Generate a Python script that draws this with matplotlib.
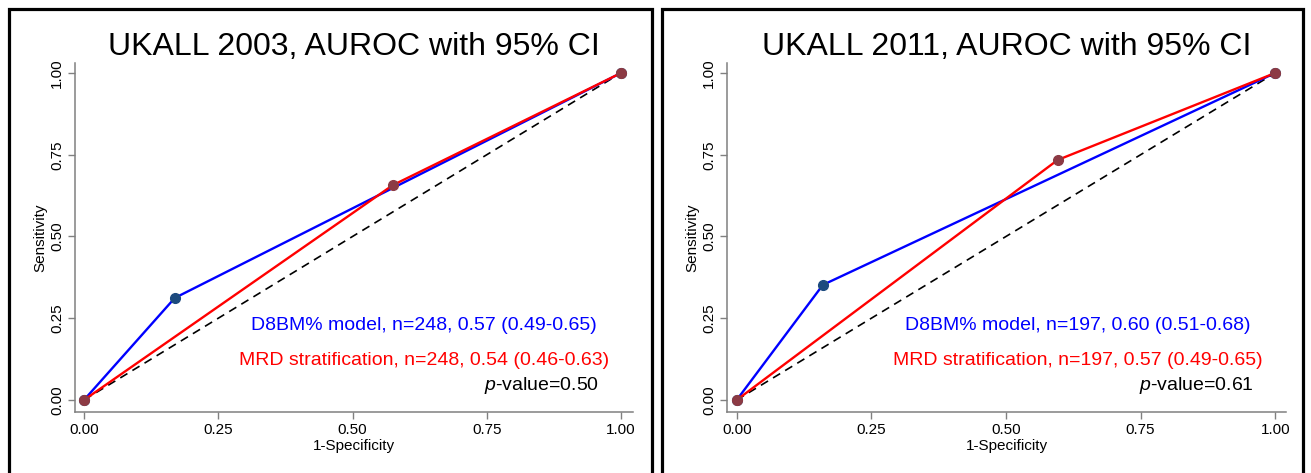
import numpy as np
import matplotlib
matplotlib.use("Agg")
import matplotlib.pyplot as plt
from matplotlib.patches import Rectangle

plt.rcParams['font.family'] = ['Liberation Sans', 'DejaVu Sans']
plt.rcParams['mathtext.fontset'] = 'custom'
plt.rcParams['mathtext.rm'] = 'Liberation Sans'
plt.rcParams['mathtext.it'] = 'Liberation Sans:italic'

# ROC points (1-specificity, sensitivity)
titles = ["UKALL 2003, AUROC with 95% CI", "UKALL 2011, AUROC with 95% CI"]
model_fpr = [[0.0, 0.169, 1.0], [0.0, 0.160, 1.0]]
model_tpr = [[0.0, 0.312, 1.0], [0.0, 0.352, 1.0]]
mrd_fpr = [[0.0, 0.575, 1.0], [0.0, 0.596, 1.0]]
mrd_tpr = [[0.0, 0.657, 1.0], [0.0, 0.734, 1.0]]
model_labels = ["D8BM% model, n=248, 0.57 (0.49-0.65)",
                "D8BM% model, n=197, 0.60 (0.51-0.68)"]
mrd_labels = ["MRD stratification, n=248, 0.54 (0.46-0.63)",
              "MRD stratification, n=197, 0.57 (0.49-0.65)"]
p_labels = ["$p$-value=0.50", "$p$-value=0.61"]
ticks = [0.0, 0.25, 0.5, 0.75, 1.0]
tick_labels = ["0.00", "0.25", "0.50", "0.75", "1.00"]

W, H = 1311, 473
fig = plt.figure(figsize=(W / 100, H / 100), dpi=100)

# panel frames (bottom edge runs off the image)
for x0, x1 in [(9, 652), (662, 1303)]:
    fig.patches.append(Rectangle((x0 / W, -0.1), (x1 - x0) / W, 1.1 - 9 / H,
                                 transform=fig.transFigure, fill=False,
                                 edgecolor='black', linewidth=2.3))

# axes: spine pixel extents
panels = [(75, 633, 84, 621), (727, 1286, 736.7, 1275.2)]
y_spine_top, y_spine_bot, y0px, y1px = 63, 412, 400, 73
axis_grey = '#808080'

for i, (sl, sr, x0px, x1px) in enumerate(panels):
    ax = fig.add_axes([sl / W, 1 - y_spine_bot / H, (sr - sl) / W,
                       (y_spine_bot - y_spine_top) / H])
    xs = x1px - x0px
    ys = y0px - y1px
    ax.set_xlim(-(x0px - sl) / xs, 1 + (sr - x1px) / xs)
    ax.set_ylim(-(y_spine_bot - y0px) / ys, 1 + (y1px - y_spine_top) / ys)

    ax.plot([0, 1], [0, 1], color='black', linestyle=(0, (5, 3.5)), linewidth=1.2)
    ax.plot(model_fpr[i], model_tpr[i], color='#0000ff', linewidth=1.7,
            marker='o', markersize=7, markerfacecolor='#1c4a7e',
            markeredgecolor='#1c4a7e')
    ax.plot(mrd_fpr[i], mrd_tpr[i], color='#ff0000', linewidth=1.7,
            marker='o', markersize=7, markerfacecolor='#8c3a44',
            markeredgecolor='#8c3a44')

    for side in ['top', 'right']:
        ax.spines[side].set_visible(False)
    for side in ['left', 'bottom']:
        ax.spines[side].set_color(axis_grey)
        ax.spines[side].set_linewidth(1.1)
    ax.set_xticks(ticks)
    ax.set_xticklabels(tick_labels)
    ax.set_yticks(ticks)
    ax.set_yticklabels(tick_labels, rotation=90, va='center')
    ax.tick_params(direction='out', length=5, width=1.0, color=axis_grey,
                   labelsize=11, pad=3)
    ax.set_xlabel("1-Specificity", fontsize=11, labelpad=1)
    ax.set_ylabel("Sensitivity", fontsize=11, labelpad=2)
    ax.set_title(titles[i], fontsize=23, pad=6)

    ax.text(0.633, 0.229, model_labels[i], color='#0000ff', fontsize=14,
            ha='center', va='center')
    ax.text(0.633, 0.122, mrd_labels[i], color='#ff0000', fontsize=14,
            ha='center', va='center')
    ax.text(0.96, 0.043, p_labels[i], color='black', fontsize=14,
            ha='right', va='center')

fig.savefig("out.png", dpi=100)
